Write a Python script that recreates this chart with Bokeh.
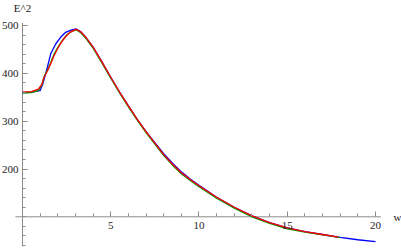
from bokeh.plotting import figure
from bokeh.models import FixedTicker, Label, Range1d
from bokeh.embed import file_html
from bokeh.resources import INLINE

# ---- data ----
blue_x = [0, 0.5, 1.0, 1.15, 1.32, 1.6, 1.89, 2.17, 2.45, 2.7, 2.92, 3.05, 3.3, 3.6, 4.0, 4.5,
          5.0, 5.5, 6.0, 6.5, 7.0, 7.5, 8.0, 8.5, 9.0, 9.5, 10, 11, 12, 13, 14, 15, 16, 17, 18, 19, 20]
blue_y = [360, 361, 364, 378, 400, 441, 462, 476, 486, 490, 492, 493, 487, 475, 455, 424,
          392, 361, 332, 304, 278, 255, 232, 212, 194, 179, 166, 141, 120, 102, 88, 77, 69, 63, 57, 52, 48]

green_x = [0, 0.5, 0.9, 1.1, 1.22, 1.4, 1.6, 1.8, 1.98, 2.2, 2.36, 2.55, 2.74, 2.95, 3.05, 3.3, 3.6,
           4.0, 4.5, 5.0, 5.5, 6.0, 6.5, 7.0, 7.5, 8.0, 8.5, 9.0, 9.5, 10, 11, 12, 13, 14, 15, 16, 17, 18]
green_y = [359, 360, 364, 376, 393, 406, 423, 441, 453, 466, 474, 482, 487, 490, 491, 485, 473,
           453, 422, 390, 359, 330, 302, 276, 252, 228, 208, 190, 176, 163, 139, 118, 100, 86, 75, 68, 62, 56.5]

red_x = [0, 0.5, 0.9, 1.1, 1.22, 1.4, 1.6, 1.8, 1.98, 2.2, 2.36, 2.55, 2.74, 2.95, 3.05, 3.3, 3.6,
         4.0, 4.5, 5.0, 5.5, 6.0, 6.5, 7.0, 7.5, 8.0, 8.5, 9.0, 9.5, 10, 11, 12, 13, 14, 15, 16, 17, 17.9]
red_y = [361, 362, 367, 377, 392, 404, 420, 438, 451, 465, 473, 481, 487, 491, 492, 487, 475,
         455, 424, 392, 361, 332, 304, 278, 254, 230, 210, 192, 178, 165, 141, 120, 102, 88, 77, 69, 63, 57.5]

x_ticks = [5, 10, 15, 20]
x_minor = [i for i in range(1, 21)]
y_ticks = [200, 300, 400, 500]
y_minor = [i for i in range(40, 501, 20)]

# axis extents (plot range of the original)
x_axis_span = [-0.4, 20.3]
y_axis_span = [38, 506]

FONT = "Liberation Serif"
AX = "#8c8c8c"

p = figure(width=401, height=249, output_backend="svg", toolbar_location=None,
           x_range=Range1d(-1.246, 21.473), y_range=Range1d(31.6, 552.5),
           min_border_left=0, min_border_right=0, min_border_top=0, min_border_bottom=0)
p.outline_line_color = None
p.grid.visible = False
p.background_fill_color = "white"
p.border_fill_color = "white"

# axis lines spanning the plot range
p.segment(x0=[x_axis_span[0], 0], y0=[100, y_axis_span[0]],
          x1=[x_axis_span[1], 0], y1=[100, y_axis_span[1]],
          line_color=AX, line_width=1)

p.line(blue_x, blue_y, line_color="#0000ff", line_width=1.3)
p.line(green_x, green_y, line_color="#009a00", line_width=1.3)
p.line(red_x, red_y, line_color="#ff0000", line_width=1.3)

for ax in (p.xaxis[0], p.yaxis[0]):
    ax.axis_line_color = None
    ax.major_tick_line_color = AX
    ax.minor_tick_line_color = AX
    ax.major_tick_in = 5
    ax.major_tick_out = 0
    ax.minor_tick_in = 3
    ax.minor_tick_out = 0
    ax.major_label_text_font = FONT
    ax.major_label_text_font_size = "11px"
    ax.major_label_text_color = "#222222"

p.xaxis[0].major_label_standoff = 5
p.yaxis[0].major_label_standoff = 4
p.xaxis[0].ticker = FixedTicker(ticks=x_ticks, minor_ticks=x_minor)
p.yaxis[0].ticker = FixedTicker(ticks=y_ticks, minor_ticks=y_minor)
p.xaxis[0].fixed_location = 100
p.yaxis[0].fixed_location = 0

p.add_layout(Label(x=0, y=536.8, text="E^2", text_font=FONT, text_font_size="11px",
                   text_align="center", text_baseline="middle", text_color="#222222"))
p.add_layout(Label(x=21.25, y=100, text="w", text_font=FONT, text_font_size="11px",
                   text_align="center", text_baseline="middle", text_color="#222222"))

open("out.html", "w").write(file_html(p, INLINE))
